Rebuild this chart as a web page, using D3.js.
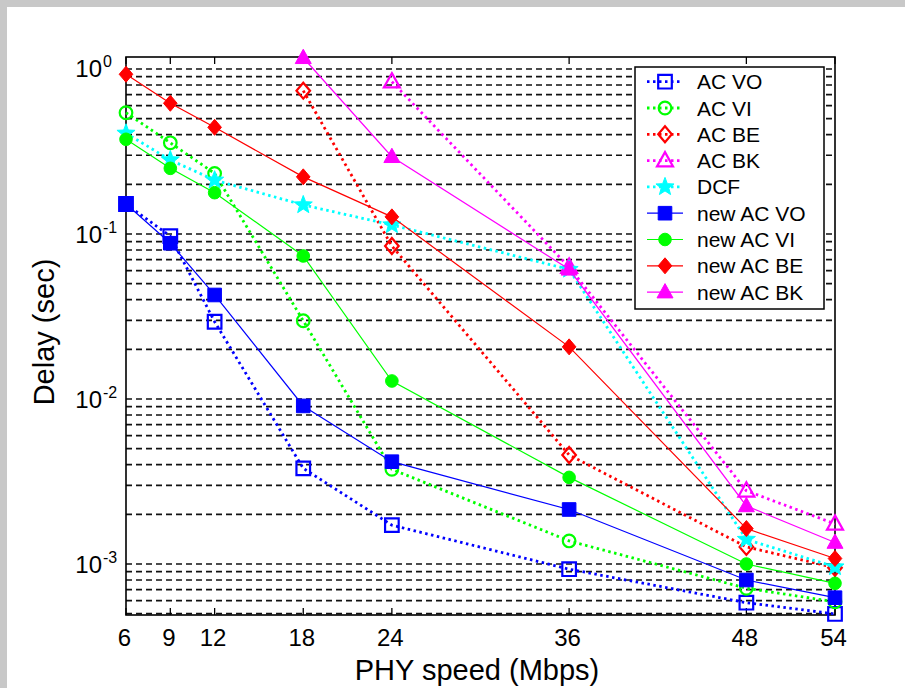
<!DOCTYPE html>
<html><head><meta charset="utf-8">
<script src="https://cdn.jsdelivr.net/npm/d3@7"></script>
<style>
html,body{margin:0;padding:0;background:#c8c8c8;}
svg{display:block;}
text{font-family:"Liberation Sans",Arial,sans-serif;fill:#000;}
</style></head>
<body>
<svg id="chart" width="905" height="688"></svg>
<script>
// ---- data ----
const speeds = [6, 9, 12, 18, 24, 36, 48, 54];
const xTickLabels = ["6", "9", "12", "18", "24", "36", "48", "54"];
const yTickExponents = [0, -1, -2, -3];

const acVO   = [0.152, 0.097, 0.0294, 0.0038, 0.00172, 0.00093, 0.000583, 0.000498];
const acVI   = [0.543, 0.357, 0.233, 0.0298, 0.00375, 0.00138, 0.000713, 0.00059];
const acBE   = [null, null, null, 0.739, 0.0846, 0.00458, 0.00127, 0.00095];
const acBK   = [null, null, null, null, 0.838, 0.063, 0.00278, 0.00175];
const dcf    = [0.408, 0.281, 0.212, 0.150, 0.1135, 0.061, 0.00141, 0.00096];
const newVO  = [0.152, 0.0879, 0.0427, 0.00908, 0.00417, 0.00214, 0.0008, 0.000625];
const newVI  = [0.375, 0.250, 0.178, 0.0736, 0.01286, 0.00335, 0.001, 0.000764];
const newBE  = [0.929, 0.620, 0.443, 0.222, 0.127, 0.0207, 0.00164, 0.00108];
const newBK  = [null, null, null, 1.17, 0.294, 0.0611, 0.00225, 0.00135];

const seriesNames = ["AC VO","AC VI","AC BE","AC BK","DCF","new AC VO","new AC VI","new AC BE","new AC BK"];
const seriesValues = [acVO, acVI, acBE, acBK, dcf, newVO, newVI, newBE, newBK];
const seriesColors = ["#0000ff","#00ff00","#ff0000","#ff00ff","#00ffff","#0000ff","#00ff00","#ff0000","#ff00ff"];
const seriesMarkers = ["square","circle","diamond","triangle","star","square","circle","diamond","triangle"];
const seriesDotted = [true,true,true,true,true,false,false,false,false];
const seriesFilled = [false,false,false,false,true,true,true,true,true];

// ---- layout ----
const svg = d3.select("#chart");
svg.append("rect").attr("x",7).attr("y",7).attr("width",898).attr("height",681).attr("fill","#ffffff");

const L = 126, R = 835, T = 57, B = 615;
const x = d3.scaleLinear().domain([6, 54]).range([L, R]);
const y = d3.scaleLog().domain([Math.pow(10,-3.309), Math.pow(10,0.0727)]).range([B, T]);

// gridlines (minor log values)
const gridVals = [];
for (let e = -4; e <= 0; e++) for (let m = 1; m <= 9; m++) {
  const v = m * Math.pow(10, e);
  if (v >= y.domain()[0] && v <= y.domain()[1]) gridVals.push(v);
}
svg.append("g").selectAll("line").data(gridVals).join("line")
  .attr("x1", L).attr("x2", R)
  .attr("y1", d => y(d)).attr("y2", d => y(d))
  .attr("stroke", "#111").attr("stroke-width", 1.7)
  .attr("stroke-dasharray", "6,4");

// axes box
svg.append("rect").attr("x", L).attr("y", T).attr("width", R - L).attr("height", B - T)
  .attr("fill", "none").attr("stroke", "#000").attr("stroke-width", 1.6);

// x ticks (top & bottom, inward)
const xt = svg.append("g");
speeds.forEach((s, i) => {
  xt.append("line").attr("x1", x(s)).attr("x2", x(s)).attr("y1", B).attr("y2", B - 7).attr("stroke", "#000").attr("stroke-width", 1.3);
  xt.append("line").attr("x1", x(s)).attr("x2", x(s)).attr("y1", T).attr("y2", T + 7).attr("stroke", "#000").attr("stroke-width", 1.3);
  xt.append("text").attr("x", x(s) - 1.5).attr("y", 646).attr("text-anchor", "middle")
    .attr("font-size", 24).text(xTickLabels[i]);
});

// y tick labels
const yt = svg.append("g");
yTickExponents.forEach(e => {
  const yy = y(Math.pow(10, e));
  yt.append("text").attr("x", 102).attr("y", yy + 8.5).attr("text-anchor", "end").attr("font-size", 24).text("10");
  yt.append("text").attr("x", 103).attr("y", yy - 1.5).attr("text-anchor", "start").attr("font-size", 16).text(String(e));
});

// axis labels
svg.append("text").attr("x", 477).attr("y", 680).attr("text-anchor", "middle").attr("font-size", 29).text("PHY speed (Mbps)");
svg.append("text").attr("transform", "translate(54,332) rotate(-90)").attr("text-anchor", "middle").attr("font-size", 29).text("Delay (sec)");

// markers
function markerPath(type, cx, cy) {
  const p = d3.path();
  if (type === "square") { const h = 6.8; p.rect(cx - h, cy - h, 2 * h, 2 * h); }
  else if (type === "circle") { p.moveTo(cx + 6.3, cy); p.arc(cx, cy, 6.3, 0, 2 * Math.PI); }
  else if (type === "diamond") { p.moveTo(cx, cy - 8); p.lineTo(cx + 6.8, cy); p.lineTo(cx, cy + 8); p.lineTo(cx - 6.8, cy); p.closePath(); }
  else if (type === "triangle") { p.moveTo(cx, cy - 8.5); p.lineTo(cx + 8, cy + 5.8); p.lineTo(cx - 8, cy + 5.8); p.closePath(); }
  else if (type === "star") {
    const ro = 9.5, ri = 4;
    for (let k = 0; k < 10; k++) {
      const r = k % 2 === 0 ? ro : ri;
      const a = -Math.PI / 2 + k * Math.PI / 5;
      const px = cx + r * Math.cos(a), py = cy + r * Math.sin(a);
      if (k === 0) p.moveTo(px, py); else p.lineTo(px, py);
    }
    p.closePath();
  }
  return p.toString();
}

function drawMarker(g, i, cx, cy) {
  const type = seriesMarkers[i], col = seriesColors[i];
  const filled = seriesFilled[i];
  g.append("path").attr("d", markerPath(type, cx, cy))
    .attr("fill", filled ? col : "none")
    .attr("stroke", col).attr("stroke-width", filled ? 1 : 2.2)
    .attr("stroke-linejoin", "miter");
}

const line = d3.line().defined(d => d.v != null).x(d => x(d.s)).y(d => y(d.v));
const plotG = svg.append("g");
seriesValues.forEach((vals, i) => {
  const pts = speeds.map((s, j) => ({ s, v: vals[j] }));
  plotG.append("path").datum(pts).attr("d", line)
    .attr("fill", "none").attr("stroke", seriesColors[i])
    .attr("stroke-width", seriesDotted[i] ? 2.8 : 1.2)
    .attr("stroke-dasharray", seriesDotted[i] ? "2.5,3.5" : null);
  pts.filter(d => d.v != null).forEach(d => drawMarker(plotG, i, x(d.s), y(d.v)));
});

// legend
const lg = svg.append("g");
lg.append("rect").attr("x", 635).attr("y", 67).attr("width", 189).attr("height", 242)
  .attr("fill", "#fff").attr("stroke", "#000").attr("stroke-width", 1.5);
seriesNames.forEach((name, i) => {
  const cy = 81.7 + i * 26.3;
  lg.append("line").attr("x1", 647).attr("x2", 683).attr("y1", cy).attr("y2", cy)
    .attr("stroke", seriesColors[i]).attr("stroke-width", seriesDotted[i] ? 2.8 : 1.2)
    .attr("stroke-dasharray", seriesDotted[i] ? "2.5,3.5" : null);
  drawMarker(lg, i, 665, cy);
  lg.append("text").attr("x", 697).attr("y", cy + 7.5).attr("font-size", 21).text(name);
});
</script>
</body></html>
